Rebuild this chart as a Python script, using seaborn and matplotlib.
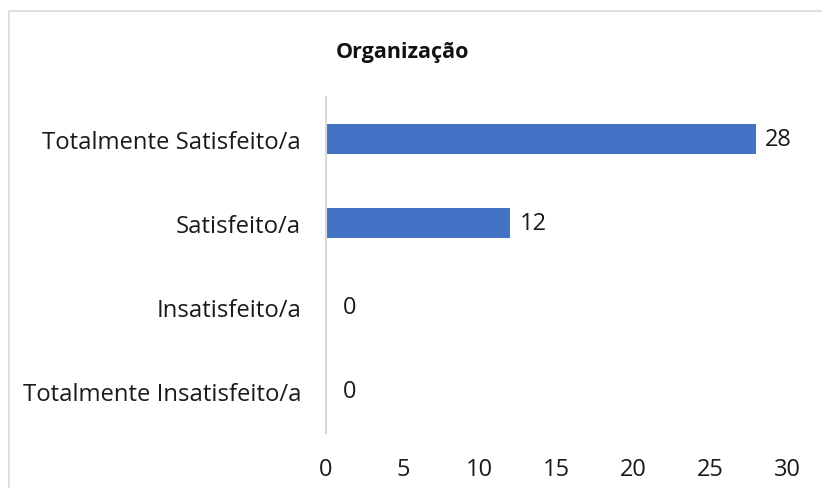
import matplotlib
matplotlib.use("Agg")
import matplotlib.pyplot as plt
import seaborn as sns
from matplotlib.patches import Rectangle

# data
categorias = ["Totalmente Satisfeito/a", "Satisfeito/a", "Insatisfeito/a", "Totalmente Insatisfeito/a"]
respostas = [28, 12, 0, 0]
ticks_x = [0, 5, 10, 15, 20, 25, 30]
titulo = "Organização"

sns.set_style("white")
plt.rcParams["font.family"] = ["Open Sans", "DejaVu Sans"]

fig = plt.figure(figsize=(8.22, 4.89), dpi=100)
ax = fig.add_axes([0.3966, 0.1125, 0.5608, 0.6871])

sns.barplot(x=respostas, y=categorias, orient="h", color="#4472C4",
            width=0.36, saturation=1, linewidth=0, ax=ax)

ax.set_xlim(0, 30)
ax.set_xticks(ticks_x)
ax.set_xticklabels([str(t) for t in ticks_x], fontsize=17, color="#1a1a1a")
ax.tick_params(axis="y", labelsize=17.2, colors="#1a1a1a", length=0, pad=18)
ax.tick_params(axis="x", length=0, pad=17)
ax.set_xlabel("")
ax.set_ylabel("")

for s in ["top", "right", "bottom"]:
    ax.spines[s].set_visible(False)
ax.spines["left"].set_color("#d9d9d9")
ax.spines["left"].set_linewidth(1.5)

# value labels (zero labels sit a bit further out, like in excel)
for i, v in enumerate(respostas):
    off = 6.5 if v > 0 else 12
    ax.annotate(str(v), xy=(v, i), xytext=(off, 0), textcoords="offset points",
                va="center", ha="left", fontsize=17, color="#1a1a1a")

fig.text(0.49, 0.893, titulo, ha="center", va="center", fontsize=15.5,
         fontweight="bold", color="#111111")

# outer chart border
fig.patches.append(Rectangle((9 / 822, -0.1), 1.2, 1 - 12 / 489 + 0.1,
                             transform=fig.transFigure, fill=False,
                             edgecolor="#d9d9d9", linewidth=1.2))

fig.savefig("out.png", dpi=100)
